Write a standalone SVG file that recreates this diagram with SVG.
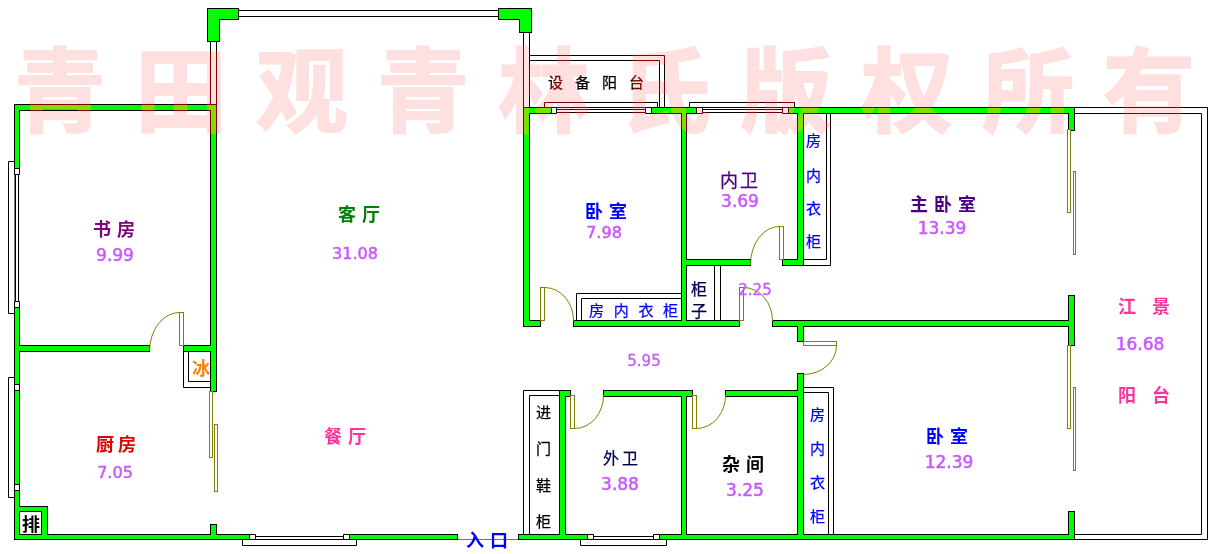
<svg xmlns="http://www.w3.org/2000/svg" xmlns:xlink="http://www.w3.org/1999/xlink" width="1215" height="554" viewBox="0 0 1215 554">
<style>
text{font-family:"Noto Sans CJK SC","DejaVu Sans",sans-serif;font-size:18px;font-weight:700}
.n{font-family:"DejaVu Sans",sans-serif;fill:#c957ff;stroke:#c957ff;stroke-width:.5;text-anchor:middle;font-size:17px;font-weight:400}
.s{font-size:16px;font-weight:400;stroke:currentColor;stroke-width:.25}
.c{font-size:15px;fill:#00f;font-weight:400;stroke:#00f;stroke-width:.25}
.l{fill:#fff;stroke:#000;stroke-width:1}
.o{fill:none;stroke:#000;stroke-width:1}
.d{fill:#fff;stroke:#808000;stroke-width:1}
.a{fill:none;stroke:#808000;stroke-width:1}
.wm{font-size:92px;font-weight:700;fill:#bf7070;stroke:#bf7070;stroke-width:2;mix-blend-mode:hard-light;letter-spacing:29px}
</style>
<defs>
<path id="w" d="M208 9H238V19H219V41H208ZM499 9H531V32H520V19H499Z
M15 105H216V110H15ZM15 105H19V168H15ZM15 308H19V384H15ZM15 391H19V484H15ZM15 491H19V539H15Z
M211 110H216V391H211ZM211 525H216V535H211ZM19 346H149V351H19ZM184 346H211V351H184Z
M19 507H47V511H19ZM42 507H47V535H42Z
M15 535H250V539H15ZM350 535H457V539H350ZM519 535H588V539H519ZM660 535H1074V539H660Z
M524 108H551V113H524ZM652 108H697V113H652ZM789 108H1074V113H789Z
M524 108H529V326H524ZM682 108H686V326H682ZM798 108H803V265H798ZM1069 108H1074V130H1069ZM1069 296H1074V345H1069ZM1069 512H1074V539H1069Z
M686 260H750V265H686ZM783 260H803V265H783Z
M524 321H540V326H524ZM574 321H739V326H574ZM773 321H1069V326H773Z
M798 321H803V341H798ZM798 374H803V535H798Z
M560 391H570V396H560ZM604 391H692V396H604ZM726 391H798V396H726Z
M560 391H565V535H560ZM682 391H686V535H682Z"/>
</defs>
<rect width="1215" height="554" fill="#fff"/>

<g id="fixtures">
<path class="l" d="M238.500 10.500H499.500V16.500H238.500Z"/>
<path class="l" d="M210.500 41.500H216.500V105H210.500Z"/>
<path class="l" d="M523.500 32.500H529.500V107.500H523.500Z"/>
<path class="o" d="M529.500 55.500H664.500V107.500M529.500 60.500H659.500V107.500"/>
<path class="l" d="M8.500 161.500H15V313.500H8.500Z"/>
<path class="l" d="M8.500 377.500H15V497.500H8.500Z"/>
<path class="o" d="M15.500 174V301M18.500 174V301M15.500 390V484M18.500 390V484"/>
<path class="l" d="M242.500 539.500H356.500V545.500H242.500Z"/>
<path class="o" d="M255 536.500H344"/>
<path class="l" d="M580.500 539.500H666.500V545.500H580.500Z"/>
<path class="o" d="M593 536.500H654"/>
<path class="l" d="M544.500 102.500H657.500V107.500H544.500Z"/>
<path class="o" d="M557 109.500H645M557 112.500H645"/>
<path class="l" d="M689.500 102.500H794.500V107.500H689.500Z"/>
<path class="o" d="M702 109.500H782M702 112.500H782"/>
<path class="o" d="M183.500 351V387.500H211M188.500 351V381.500H211"/>
<path class="o" d="M1074 107.500H1207.500V539.500H1074M1074 113.500H1201.500V534.500H1074"/>
<path class="o" d="M803 107.500H826.500V259.500H803M826.500 107.500H830.500V265.500H803"/>
<path class="o" d="M576.500 321V293.500H682M581.500 321V298.500H682"/>
<path class="o" d="M714.500 265V321M720.500 265V321"/>
<path class="o" d="M803 387.500H833.500V535M803 392.500H828.500V535"/>
<path class="o" d="M560 390.500H523.500V535M560 395.500H529.500V535"/>
</g>

<g id="walls">
<use xlink:href="#w" fill="none" stroke="#000" stroke-width="2"/>
<use xlink:href="#w" fill="#0f0"/>
<path d="M458 539.500H518" class="a"/>
<path class="l" d="M14.500 168.500h5v6h-5zM14.500 301.500h5v6h-5zM14.500 384.500h5v6h-5zM14.500 484.500h5v6h-5zM249.500 534.500h6v5h-6zM343.500 534.500h6v5h-6zM587.500 534.500h6v5h-6zM653.500 534.500h6v5h-6zM551.500 107.500h5v6h-5zM645.500 107.500h6v6h-6zM696.500 107.500h6v6h-6zM782.500 107.500h6v6h-6z"/>
</g>

<g id="doors">
<rect class="d" x="179.500" y="312.500" width="4" height="33"/><path class="a" d="M149.500 351A30 39 0 0 1 179.500 312.500"/>
<rect class="d" x="779.500" y="226.500" width="4" height="33"/><path class="a" d="M750.500 265A29 38 0 0 1 779.500 226.500"/>
<rect class="d" x="540.500" y="287.500" width="4" height="33"/><path class="a" d="M544.500 287.500A29 33 0 0 1 573.500 321"/>
<rect class="d" x="739.500" y="287.500" width="4" height="33"/><path class="a" d="M743.500 287.500A29 33 0 0 1 772.500 321"/>
<rect class="d" x="803.500" y="341.500" width="33" height="4"/><path class="a" d="M836.500 345.500A33 29 0 0 1 803.500 374.500"/>
<rect class="d" x="570.500" y="395.500" width="4" height="33"/><path class="a" d="M574.500 428.500A29 33 0 0 0 603.500 395"/>
<rect class="d" x="692.500" y="395.500" width="4" height="33"/><path class="a" d="M696.500 428.500A29 33 0 0 0 725.500 395"/>
<rect class="d" x="209.500" y="391.500" width="3" height="66"/><rect class="d" x="214.500" y="424.500" width="3" height="67"/>
<rect class="d" x="1067.500" y="129.500" width="3" height="83"/><rect class="d" x="1073.500" y="171.500" width="2" height="83"/>
<rect class="d" x="1067.500" y="345.500" width="3" height="83"/><rect class="d" x="1073.500" y="387.500" width="2" height="83"/>
</g>

<g id="study"><text x="93" y="236" letter-spacing="6" fill="#800080">书房</text><text class="n" x="115" y="261">9.99</text></g>
<g id="living"><text x="338" y="221" letter-spacing="6" fill="#008000">客厅</text><text class="n" x="355" y="259" style="font-size:16px">31.08</text></g>
<g id="kitchen"><text x="96" y="451" letter-spacing="4" fill="#e00000">厨房</text><text class="n" x="115" y="478" style="font-size:16px">7.05</text></g>
<g id="fridge"><text x="192" y="375" fill="#ff7f00">冰</text></g>
<g id="flue"><text x="22" y="531" fill="#000">排</text></g>
<g id="dining"><text x="324" y="443" letter-spacing="6" fill="#ff3399">餐厅</text></g>
<g id="bedroom-n"><text x="585" y="218" letter-spacing="6" fill="#00f">卧室</text><text class="n" x="604" y="238" style="font-size:16px">7.98</text></g>
<g id="bath-inner"><text x="720" y="187" letter-spacing="2" fill="#4b0082" style="font-weight:400;stroke:#4b0082;stroke-width:.25">内卫</text><text class="n" x="740" y="207">3.69</text></g>
<g id="service-balcony"><text x="548" y="88" style="font-size:15px;font-weight:400;stroke:#000;stroke-width:.25" letter-spacing="12" fill="#000">设备阳台</text></g>
<g id="master"><text x="910" y="211" letter-spacing="6" fill="#4b0082">主卧室</text><text class="n" x="942" y="234">13.39</text></g>
<g id="balcony"><text x="1118" y="313" letter-spacing="16" fill="#ff3399">江景</text><text class="n" x="1140" y="350">16.68</text><text x="1118" y="402" letter-spacing="16" fill="#ff3399">阳台</text></g>
<g id="closet-a"><text x="589" y="316" class="c" letter-spacing="9.700">房内衣柜</text></g>
<g id="closet-b"><text x="806 806 806 806" y="146 181 214 247" class="c">房内衣柜</text></g>
<g id="closet-c"><text x="810 810 810 810" y="420 454 488 522" class="c">房内衣柜</text></g>
<g id="cabinet" color="#000050"><text x="691" y="295" class="s" fill="#000050">柜</text><text x="691" y="317" class="s" fill="#000050">子</text></g>
<g id="shoe"><text x="536 536 536 536" y="418 454 491 527" class="c" style="fill:#000;stroke:#000">进门鞋柜</text></g>
<g id="corridor"><text class="n" x="755" y="295" style="font-size:15px;stroke-width:.3">2.25</text><text class="n" x="644" y="366" style="font-size:15px;stroke-width:.3">5.95</text></g>
<g id="bath-outer" color="#000050"><text x="603" y="464" letter-spacing="3" class="s" fill="#000050">外卫</text><text class="n" x="620" y="490">3.88</text></g>
<g id="storage"><text x="722" y="471" letter-spacing="6" fill="#000">杂间</text><text class="n" x="745" y="496">3.25</text></g>
<g id="bedroom-s"><text x="926" y="443" letter-spacing="6" fill="#00f">卧室</text><text class="n" x="949" y="468">12.39</text></g>
<g id="entry"><text x="466" y="547" letter-spacing="6" fill="#00f">入口</text></g>

<text class="wm" x="14" y="125">青田观青林氏版权所有</text>
</svg>
